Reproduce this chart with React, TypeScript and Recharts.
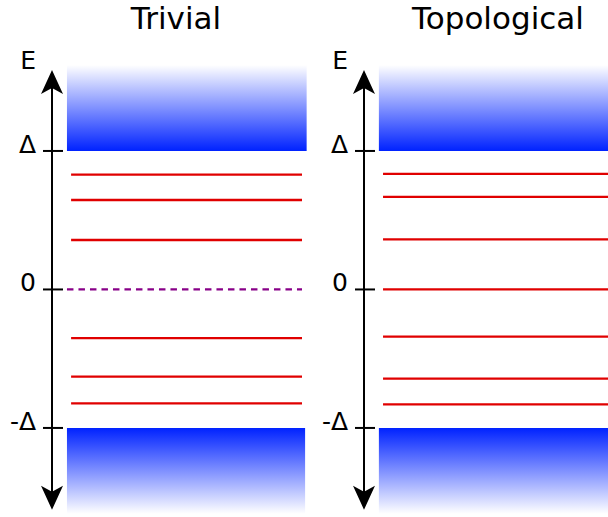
import { ComposedChart, XAxis, YAxis, ReferenceArea, ReferenceLine } from 'recharts';

// energies in units of the gap Δ
const titles = ['Trivial', 'Topological'];
const tickValues = [1, 0, -1];
const tickLabels = ['Δ', '0', '-Δ'];
const axisName = 'E';
const trivialLevels = [0.829, 0.646, 0.357, -0.352, -0.63, -0.822];
const trivialZeroModes = [0];
const topologicalLevels = [0.835, 0.668, 0.361, 0, -0.341, -0.644, -0.83];
const topologicalZeroModes: number[] = [];
const gapEdge = 1;
const bandEdge = 1.62;
const arrowEnds = [1.585, -1.59];

const FONT = '"DejaVu Sans", sans-serif';
const Y_DOMAIN = [-1.643, 2.09];
const HEIGHT = 517;
const AXIS_W = 52;
const LABEL_SIZE = 25;

const PANELS = [
  {
    id: 'triv', title: titles[0], left: 0, width: 310, titleCenter: 176,
    bandTop: [0.058, 0.987], bandBottom: [0.058, 0.981], line: [0.074, 0.969], zero: [0.058, 0.969],
    levels: trivialLevels, zeroModes: trivialZeroModes,
  },
  {
    id: 'topo', title: titles[1], left: 312, width: 296, titleCenter: 498,
    bandTop: [0.061, 1], bandBottom: [0.061, 1], line: [0.078, 1], zero: [0.061, 1],
    levels: topologicalLevels, zeroModes: topologicalZeroModes,
  },
];

const AxisTick = ({ x, y, payload }: any) => {
  const label = tickLabels[tickValues.indexOf(payload.value)];
  return (
    <g>
      <line x1={x - 9} x2={x + 11} y1={y} y2={y} stroke="#000" strokeWidth={2} />
      <text x={x - 16} y={y + 2} textAnchor="end" fontSize={LABEL_SIZE} fontFamily={FONT} fill="#000">
        {label}
      </text>
    </g>
  );
};

const EnergyArrow = (props: any) => {
  const { x1, y1, y2 } = props;
  const top = Math.min(y1, y2);
  const bottom = Math.max(y1, y2);
  return (
    <g>
      <line x1={x1} x2={x1} y1={top + 10} y2={bottom - 10} stroke="#000" strokeWidth={2} />
      <path d={`M${x1},${top} L${x1 + 11},${top + 24} L${x1},${top + 18} L${x1 - 11},${top + 24} Z`} fill="#000" />
      <path d={`M${x1},${bottom} L${x1 + 11},${bottom - 24} L${x1},${bottom - 18} L${x1 - 11},${bottom - 24} Z`} fill="#000" />
      <text x={x1 - 16} y={top - 1} textAnchor="end" fontSize={LABEL_SIZE} fontFamily={FONT} fill="#000">
        {axisName}
      </text>
    </g>
  );
};

const Panel = ({ p }: { p: (typeof PANELS)[number] }) => {
  const rows = [...p.levels, ...p.zeroModes].map((e) => ({ e }));
  return (
    <div style={{ position: 'absolute', left: p.left, top: 0 }}>
      <ComposedChart data={rows} width={p.width} height={HEIGHT} margin={{ top: 0, right: 0, bottom: 0, left: 0 }}>
        <defs>
          <linearGradient id={`${p.id}-up`} x1="0" y1="0" x2="0" y2="1">
            <stop offset="0" stopColor="#ffffff" />
            <stop offset="1" stopColor="#0022ff" />
          </linearGradient>
          <linearGradient id={`${p.id}-down`} x1="0" y1="0" x2="0" y2="1">
            <stop offset="0" stopColor="#0022ff" />
            <stop offset="1" stopColor="#ffffff" />
          </linearGradient>
        </defs>
        <XAxis type="number" dataKey="x" domain={[0, 1]} allowDataOverflow hide />
        <YAxis
          type="number"
          dataKey="e"
          domain={Y_DOMAIN}
          allowDataOverflow
          ticks={tickValues}
          interval={0}
          width={AXIS_W}
          axisLine={false}
          tickLine={false}
          tickSize={0}
          tickMargin={0}
          tick={<AxisTick />}
        />
        <ReferenceArea x1={p.bandTop[0]} x2={p.bandTop[1]} y1={gapEdge} y2={bandEdge} fill={`url(#${p.id}-up)`} fillOpacity={1} stroke="none" />
        <ReferenceArea x1={p.bandBottom[0]} x2={p.bandBottom[1]} y1={-bandEdge} y2={-gapEdge} fill={`url(#${p.id}-down)`} fillOpacity={1} stroke="none" />
        {p.levels.map((v, i) => (
          <ReferenceLine
            key={`lvl-${i}`}
            segment={[{ x: p.line[0], y: v }, { x: p.line[1], y: v }]}
            stroke="#e00000"
            strokeWidth={2.3}
          />
        ))}
        {p.zeroModes.map((v, i) => (
          <ReferenceLine
            key={`zm-${i}`}
            segment={[{ x: p.zero[0], y: v }, { x: p.zero[1], y: v }]}
            stroke="#880088"
            strokeWidth={2.3}
            strokeDasharray="6.5 5"
          />
        ))}
        <ReferenceLine
          segment={[{ x: 0, y: arrowEnds[0] }, { x: 0, y: arrowEnds[1] }]}
          shape={<EnergyArrow />}
        />
      </ComposedChart>
      <div
        style={{
          position: 'absolute', top: 0, left: p.titleCenter - p.left - 150, width: 300,
          textAlign: 'center', fontFamily: FONT, fontSize: 31, lineHeight: '36px', color: '#000',
        }}
      >
        {p.title}
      </div>
    </div>
  );
};

export default function App() {
  return (
    <div style={{ position: 'absolute', left: 0, top: 0, width: 608, height: HEIGHT, background: '#fff' }}>
      {PANELS.map((p) => (
        <Panel key={p.id} p={p} />
      ))}
    </div>
  );
}
